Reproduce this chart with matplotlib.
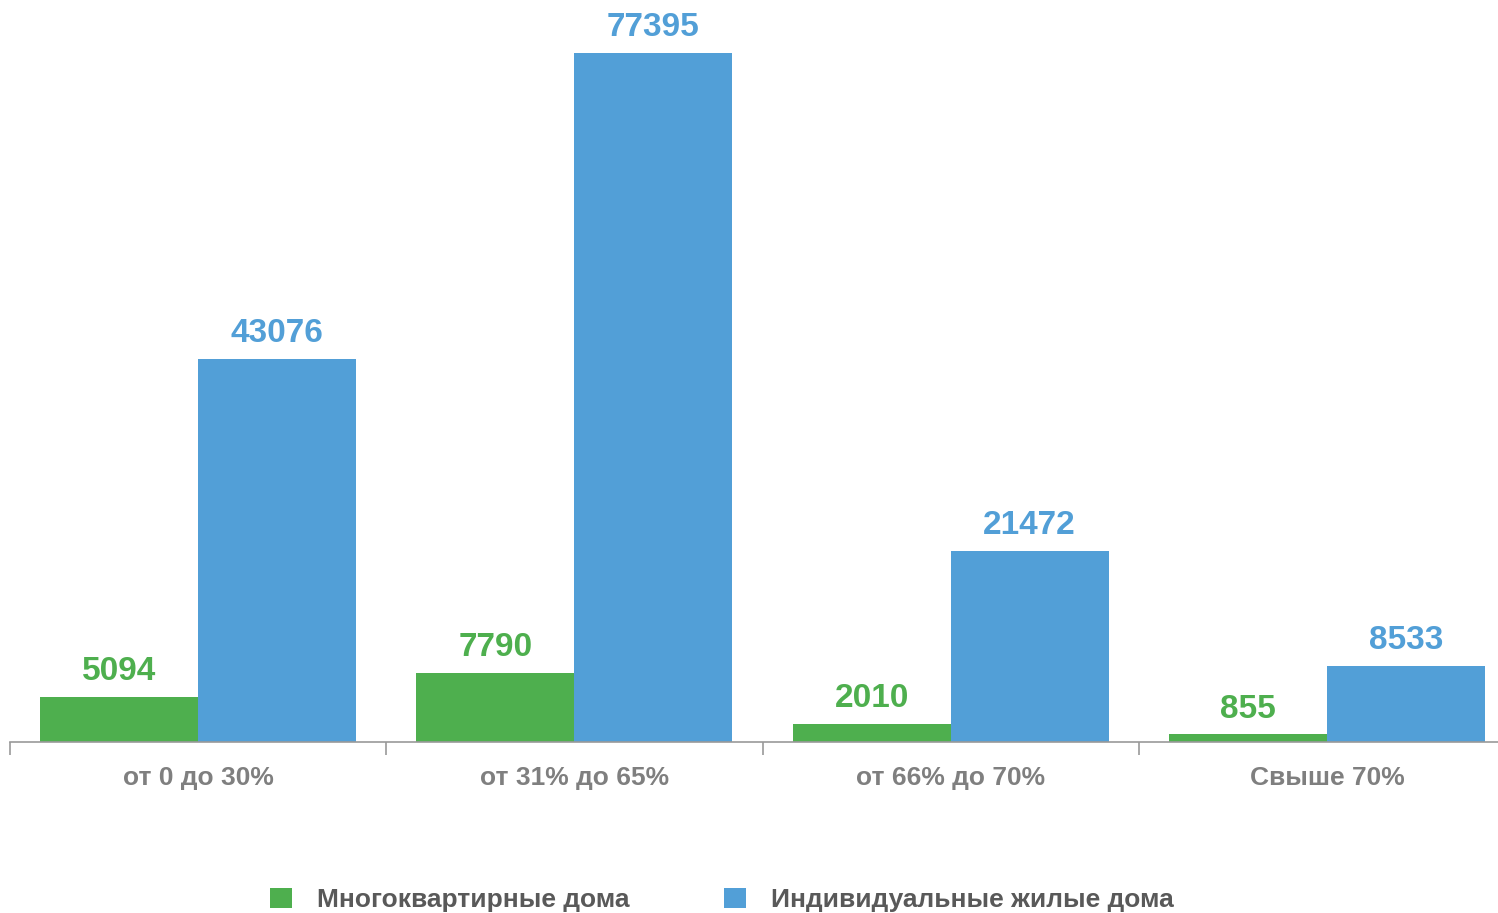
import matplotlib
matplotlib.use("Agg")
import matplotlib.pyplot as plt
import numpy as np

categories = ["от 0 до 30%", "от 31% до 65%", "от 66% до 70%", "Свыше 70%"]
series_names = ["Многоквартирные дома", "Индивидуальные жилые дома"]
mkd = [5094, 7790, 2010, 855]
izd = [43076, 77395, 21472, 8533]

green = "#4EAF4E"
blue = "#529FD7"

plt.rcParams['font.family'] = ['Liberation Sans', 'DejaVu Sans']

W, H = 1498, 913
fig = plt.figure(figsize=(W / 100, H / 100), dpi=100)
ax = fig.add_axes([10 / W, (H - 742) / H, 1505 / W, 742 / H])

x = np.arange(len(categories))
bw = 0.42
b1 = ax.bar(x - bw / 2, mkd, bw, color=green, label=series_names[0])
b2 = ax.bar(x + bw / 2, izd, bw, color=blue, label=series_names[1])

ax.set_xlim(-0.5, 3.5)
ax.set_ylim(0, 83350)

for rect, v in zip(b1, mkd):
    ax.annotate(str(v), (rect.get_x() + rect.get_width() / 2, v), xytext=(0, 7),
                textcoords="offset points", ha="center", va="bottom",
                fontsize=24, fontweight="bold", color=green)
for rect, v in zip(b2, izd):
    ax.annotate(str(v), (rect.get_x() + rect.get_width() / 2, v), xytext=(0, 7),
                textcoords="offset points", ha="center", va="bottom",
                fontsize=24, fontweight="bold", color=blue)

for s in ["top", "right", "left"]:
    ax.spines[s].set_visible(False)
ax.spines["bottom"].set_color("#999999")
ax.spines["bottom"].set_linewidth(1.2)
ax.set_yticks([])

ax.set_xticks(x)
ax.set_xticklabels(categories, fontsize=19, fontweight="bold", color="#7F7F7F")
ax.tick_params(axis="x", length=0, pad=17)
ax.set_xticks(np.arange(-0.5, 4.0, 1.0), minor=True)
ax.tick_params(axis="x", which="minor", length=9, width=1.2, color="#999999")

leg = fig.legend(handles=[b1, b2], loc="center", bbox_to_anchor=(722 / W, 1 - 900 / H),
                 ncol=2, frameon=False, handlelength=0.83, handleheight=0.83,
                 handletextpad=0.95, columnspacing=3.6,
                 prop={"size": 19, "weight": "bold"})
for t in leg.get_texts():
    t.set_color("#595959")

fig.savefig("out.png", dpi=100)
